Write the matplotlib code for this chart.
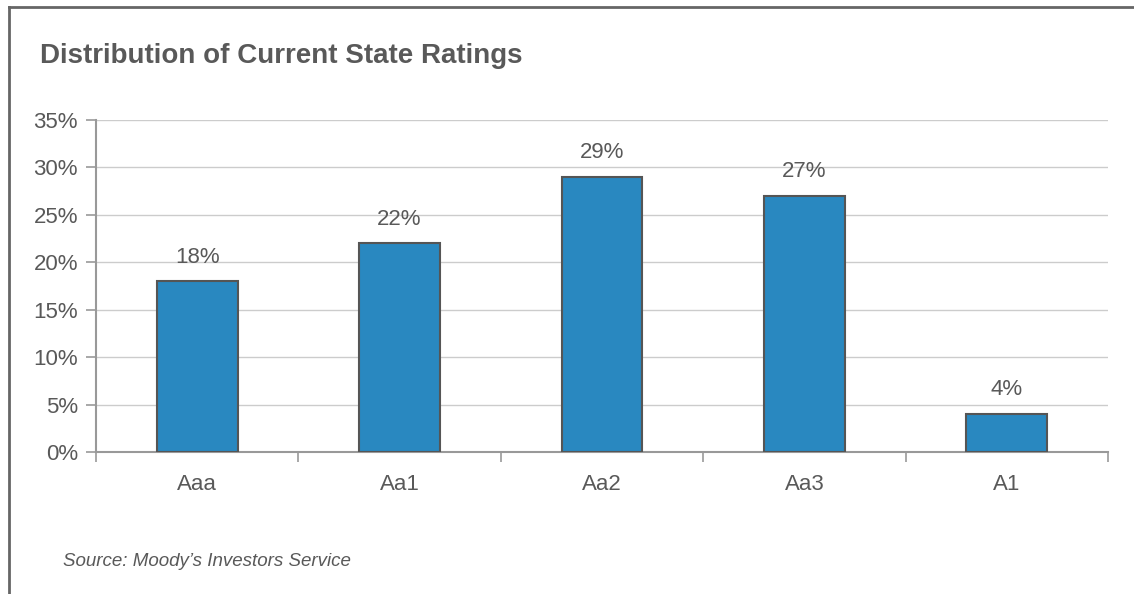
import matplotlib.pyplot as plt
from matplotlib.lines import Line2D
from matplotlib.ticker import FuncFormatter

ratings = ["Aaa", "Aa1", "Aa2", "Aa3", "A1"]
shares = [18, 22, 29, 27, 4]

plt.rcParams['font.family'] = ['Liberation Sans', 'DejaVu Sans']
text_col = '#595959'

fig = plt.figure(figsize=(11.34, 5.94), dpi=100)
ax = fig.add_axes([96 / 1134, 1 - 452 / 594, (1108 - 96) / 1134, (452 - 120) / 594])

x = range(len(ratings))
ax.bar(x, shares, width=0.4, color='#2988c0', edgecolor='#555555', linewidth=1.5, zorder=3)
for xi, v in zip(x, shares):
    ax.annotate("{}%".format(v), (xi, v), xytext=(0, 13.5), textcoords='offset points',
                ha='center', va='baseline', fontsize=16, color=text_col)

ax.set_xlim(-0.5, len(ratings) - 0.5)
ax.set_ylim(0, 35)
ax.set_yticks(range(0, 36, 5))
ax.yaxis.set_major_formatter(FuncFormatter(lambda v, p: "{:.0f}%".format(v)))
ax.set_xticks(list(x))
ax.set_xticklabels(ratings)
ax.set_xticks([i - 0.5 for i in range(len(ratings) + 1)], minor=True)
ax.tick_params(axis='x', which='major', length=0, pad=15.5, labelsize=16, labelcolor=text_col)
ax.tick_params(axis='x', which='minor', length=7, color='#999999', width=1.2, direction='out')
ax.tick_params(axis='y', length=7, color='#999999', width=1.2, labelsize=16, labelcolor=text_col, pad=6)
ax.grid(axis='y', color='#cccccc', linewidth=1, zorder=0)

for s in ['top', 'right']:
    ax.spines[s].set_visible(False)
ax.spines['left'].set_color('#999999')
ax.spines['bottom'].set_color('#999999')
ax.spines['left'].set_linewidth(1.5)
ax.spines['bottom'].set_linewidth(1.5)

# outer frame (top and left edges)
fig.add_artist(Line2D([9 / 1134, 9 / 1134], [0, 1 - 7 / 594], transform=fig.transFigure, color='#666666', linewidth=2))
fig.add_artist(Line2D([9 / 1134, 1], [1 - 7 / 594, 1 - 7 / 594], transform=fig.transFigure, color='#666666', linewidth=2))

fig.text(40 / 1134, 1 - 56 / 594, "Distribution of Current State Ratings", fontsize=20,
         fontweight='bold', color=text_col, va='center', ha='left')
fig.text(63 / 1134, 1 - 562 / 594, "Source: Moody\u2019s Investors Service", fontsize=13.5,
         style='italic', color=text_col, va='center', ha='left')

plt.savefig('out.png', dpi=100)
